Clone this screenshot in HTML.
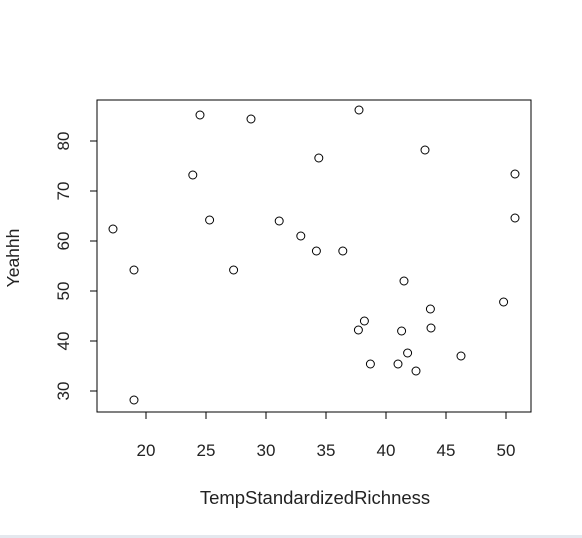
<!DOCTYPE html>
<html><head><meta charset="utf-8"><style>
html,body{margin:0;padding:0;background:#fff;}
svg{display:block;font-family:"Liberation Sans",Arial,sans-serif;}
</style></head><body>
<svg id="chart" width="582" height="538" viewBox="0 0 582 538">
<rect x="0" y="0" width="582" height="538" fill="#fff"/>
<rect x="0" y="535" width="582" height="3" fill="#e4e8ee"/>
<rect x="97" y="100" width="434" height="312" fill="none" stroke="#000" stroke-width="1"/>
<g id="xaxis"></g>
<g id="yaxis"></g>
<g id="points"></g>
<text x="315" y="504" font-size="18.5" text-anchor="middle" fill="#222">TempStandardizedRichness</text>
<text transform="translate(19,258) rotate(-90)" font-size="17.5" text-anchor="middle" fill="#222">Yeahhh</text>
</svg>
<script>
const xTicks=[20,25,30,35,40,45,50];
const yTicks=[30,40,50,60,70,80];
const xVals=[17.25,19.0,19.0,23.9,24.5,25.3,27.3,28.75,31.1,32.9,34.2,34.4,36.4,37.75,37.7,38.2,38.7,41.0,41.5,41.3,41.8,42.5,43.25,43.7,43.75,46.25,49.8,50.75,50.75];
const yVals=[62.4,54.2,28.2,73.2,85.2,64.2,54.2,84.4,64,61,58,76.6,58,86.2,42.2,44,35.4,35.4,52,42,37.6,34,78.2,46.4,42.6,37,47.8,73.4,64.6];
const NS='http://www.w3.org/2000/svg';
function sx(v){return 146+(v-20)*12;}
function sy(v){return 391-(v-30)*5;}
function mk(t,a,p){const e=document.createElementNS(NS,t);for(const k in a)e.setAttribute(k,a[k]);p.appendChild(e);return e;}
const xa=document.getElementById('xaxis'),ya=document.getElementById('yaxis'),pg=document.getElementById('points');
mk('line',{x1:sx(20),x2:sx(50),y1:412,y2:412,stroke:'#000'},xa);
xTicks.forEach(t=>{
 const l=mk('line',{x1:sx(t),x2:sx(t),y1:412,y2:419,stroke:'#000'},xa);
 
 
 const s=mk('text',{x:sx(t),y:456,'font-size':17,'text-anchor':'middle',fill:'#222'},xa);
 s.textContent=t;
 
 
});
mk('line',{x1:97,x2:97,y1:sy(30),y2:sy(80),stroke:'#000'},ya);
yTicks.forEach(t=>{
 const l=mk('line',{x1:90,x2:97,y1:sy(t),y2:sy(t),stroke:'#000'},ya);
 
 
 const s=mk('text',{transform:`translate(69,${sy(t)}) rotate(-90)`,'font-size':17,'text-anchor':'middle',fill:'#222'},ya);
 s.textContent=t;
 
 
});
xVals.forEach((x,i)=>{
 const c=mk('circle',{cx:sx(x),cy:sy(yVals[i]),r:4,fill:'none',stroke:'#000','stroke-width':1},pg);
 
 
});
</script>
</body></html>
